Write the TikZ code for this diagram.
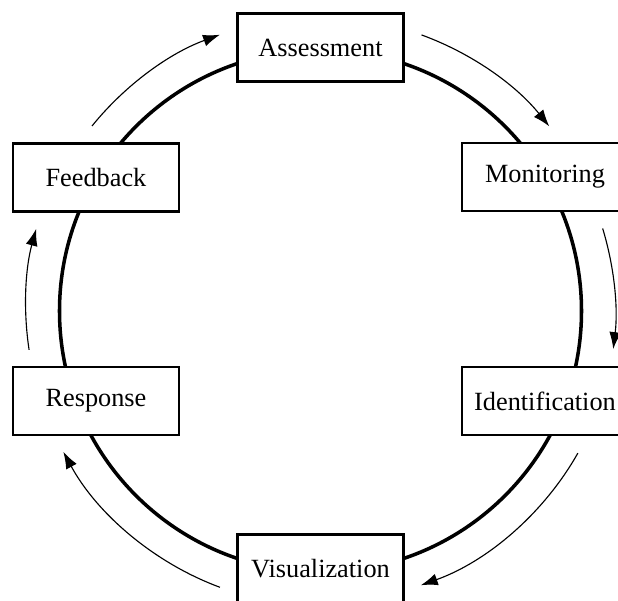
\documentclass[tikz,border=0pt]{standalone}
\usepackage{fontspec}
\setmainfont{Liberation Serif}
\usetikzlibrary{arrows.meta}

\begin{document}
\begin{tikzpicture}[
    >={Latex[length=12pt,width=8.5pt]},
    font=\fontsize{18.7}{22}\selectfont,
    stage/.style={
		rectangle,
		draw=black,
		line width=2pt,
		text centered,
		minimum height=1.7cm,
		minimum width=4.15cm,
		fill=white
	},
	cycle/.style={
		draw=black,
		line width=2.5pt
	},
	flow/.style={
		->,
		draw=black,
		line width=0.8pt,
		looseness=0.87
	}
  ]

 \useasboundingbox (-8.0125,-7.225) rectangle (7.4375,7.775);

% // The cycle
 \coordinate (centre) at (0,0);
 \draw [cycle] (centre) circle [radius=6.525cm];

 \node [stage] (assessment)     at (0,6.5875)       {Assessment};
 \node [stage] (monitoring)     at (5.6125,3.35)    {Monitoring};
 \node [stage] (identification) at (5.6125,-2.25)   {Identification};
 \node [stage] (visualization)  at (0,-6.4375)      {Visualization};
 \node [stage] (response)       at (-5.6125,-2.25)  {Response};
 \node [stage] (feedback)       at (-5.6125,3.3375) {Feedback};

% // The arrows round the outside
 \coordinate (start1) at (141:7.35);
 \coordinate (end1)   at (110:7.35);
 \coordinate (start2) at (69.9:7.35);
 \coordinate (end2)   at (38.9:7.35);
 \coordinate (start3) at (16.3:7.35);
 \coordinate (end3)   at (-7.4:7.38);
 \coordinate (start4) at (-28.9:7.35);
 \coordinate (end4)   at (-69.9:7.3);
 \coordinate (start5) at (-110:7.35);
 \coordinate (end5)   at (-151.3:7.33);
 \coordinate (start6) at (187.6:7.35);
 \coordinate (end6)   at (163.9:7.4);

 \draw [flow, bend left=15.5] (start1) to (end1);
 \draw [flow, bend left=15.5] (start2) to (end2);
 \draw [flow, bend left=11.9] (start3) to (end3);
 \draw [flow, bend left=20.5] (start4) to (end4);
 \draw [flow, bend left=20.6] (start5) to (end5);
 \draw [flow, bend left=11.9] (start6) to (end6);

\end{tikzpicture}
\end{document}
